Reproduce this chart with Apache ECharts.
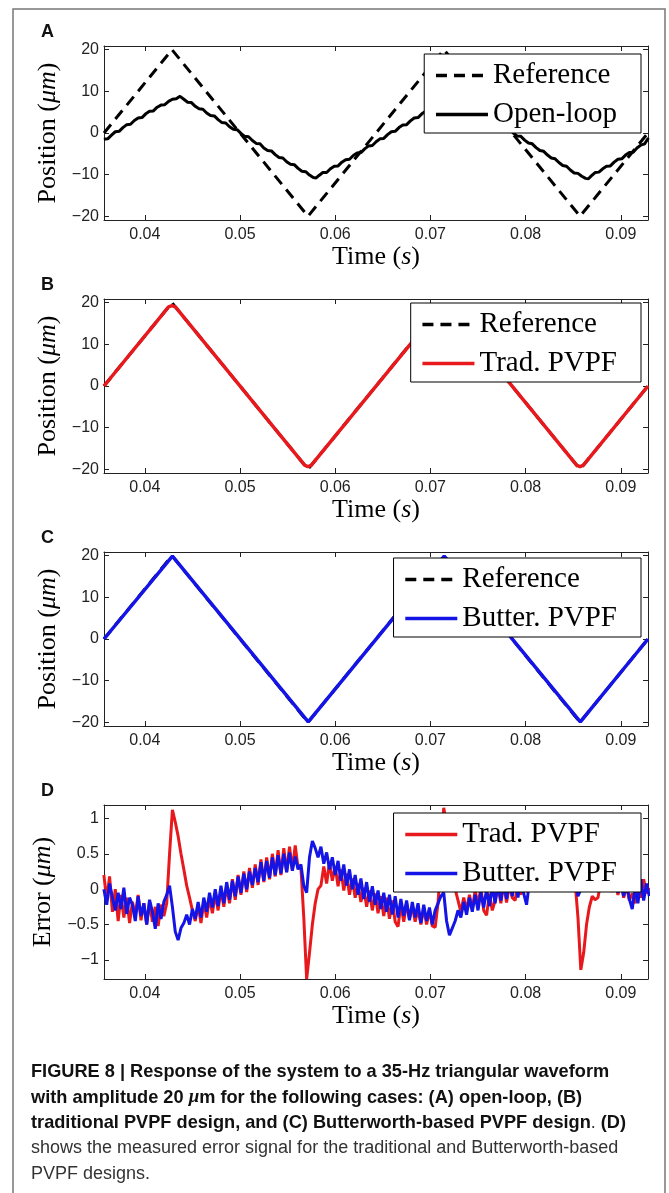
<!DOCTYPE html>
<html><head><meta charset="utf-8">
<script src="https://cdn.jsdelivr.net/npm/echarts@6/dist/echarts.min.js"></script>
<style>html,body{margin:0;padding:0;background:#fff}#c{width:669px;height:1193px}</style>
</head><body><div id="c"></div>
<script>
// ---------------- data ----------------
const xTicks = [0.04, 0.05, 0.06, 0.07, 0.08, 0.09];
const posTicks = [-20, -10, 0, 10, 20];
const errTicks = [-1, -0.5, 0, 0.5, 1];

// reference triangle (vertices)
const refT = [0.035714, 0.042857, 0.057143, 0.071429, 0.085714, 0.092857];
const refV = [0, 20, -20, 20, -20, 0];

// (A) open-loop response
const openT = [0.0357,0.0361,0.0365,0.0369,0.0373,0.0377,0.0381,0.0385,0.0389,0.0393,0.0397,0.0401,0.0405,0.0409,0.0413,0.0417,0.0421,0.0425,0.0429,0.0433,0.0437,
0.0441,0.0445,0.0449,0.0453,0.0457,0.0461,0.0465,0.0469,0.0473,0.0477,0.0481,0.0485,0.0489,0.0493,0.0497,0.0501,0.0505,0.0509,0.0513,0.0517,0.0521,0.0525,0.0529,0.0533,0.0537,0.0541,0.0545,0.0549,0.0553,0.0557,0.0561,0.0565,0.0569,0.0573,0.0577,0.0580,
0.0583,0.0587,0.0591,0.0595,0.0599,0.0603,0.0607,0.0611,0.0615,0.0619,0.0623,0.0627,0.0631,0.0635,0.0639,0.0643,0.0647,0.0651,0.0655,0.0659,0.0663,0.0667,0.0671,0.0675,0.0679,0.0683,0.0687,0.0691,0.0695,0.0699,0.0703,0.0707,0.0711,0.0715,0.0719,0.0723,
0.0727,0.0731,0.0735,0.0739,0.0743,0.0747,0.0751,0.0755,0.0759,0.0763,0.0767,0.0771,0.0775,0.0779,0.0783,0.0787,0.0791,0.0795,0.0799,0.0803,0.0807,0.0811,0.0815,0.0819,0.0823,0.0827,0.0831,0.0835,0.0839,0.0843,0.0847,0.0851,0.0855,0.0859,0.0863,0.0866,
0.0869,0.0873,0.0877,0.0881,0.0885,0.0889,0.0893,0.0897,0.0901,0.0905,0.0909,0.0913,0.0917,0.0921,0.0925,0.0929];
const openV = [-1.5,-1.4,-0.5,0.3,0.4,1.3,2.0,2.1,3.0,3.6,3.7,4.6,5.2,5.3,6.2,6.7,6.8,7.6,8.1,8.2,8.8,
8.1,7.4,7.3,6.4,5.8,5.7,4.8,4.2,4.1,3.2,2.5,2.4,1.5,0.9,0.8,-0.1,-0.8,-0.9,-1.8,-2.5,-2.6,-3.6,-4.2,-4.3,-5.2,-5.9,-6.0,-6.9,-7.5,-7.6,-8.5,-9.2,-9.3,-10.1,-10.7,-10.8,
-10.2,-9.5,-9.5,-8.6,-8.0,-7.9,-7.0,-6.4,-6.3,-5.4,-4.8,-4.7,-3.8,-3.1,-3.0,-2.1,-1.4,-1.3,-0.4,0.3,0.4,1.3,1.9,2.0,2.9,3.6,3.7,4.6,5.2,5.3,6.2,6.8,6.9,7.8,8.4,8.7,
8.1,7.5,7.4,6.5,5.9,5.8,4.9,4.3,4.2,3.3,2.6,2.5,1.6,1.0,0.9,0.0,-0.7,-0.8,-1.7,-2.4,-2.6,-3.5,-4.2,-4.4,-5.3,-6.0,-6.2,-7.1,-7.8,-8.0,-8.9,-9.6,-9.7,-10.4,-10.9,-11.0,
-10.3,-9.5,-9.4,-8.6,-8.0,-7.9,-7.0,-6.3,-6.2,-5.3,-4.7,-4.6,-3.6,-2.9,-2.6,-1.2];

// (B) traditional PVPF (rounded turning points)
const tradT = [0.035714,0.0425,0.04286,0.04321,0.05679,0.05714,0.0575,0.0711,0.07143,0.07179,0.08536,0.08571,0.08607,0.092857];
const tradV = [0,19.0,19.3,19.0,-19.0,-19.4,-19.0,19.0,19.3,19.0,-19.0,-19.4,-19.0,0];

// (C) Butterworth PVPF
const butT = [0.035714,0.04290,0.05717,0.07145,0.08575,0.092857];
const butV = [0,19.9,-19.9,19.9,-19.9,0];

// (D) measured error, sampled every errDt from errT0
const errT0 = 0.0357, errDt = 0.0003;
const errTrad = [0.2,-0.15,0.18,-0.32,0.0,-0.45,-0.08,-0.4,-0.12,-0.48,
-0.18,-0.38,-0.08,-0.44,-0.2,-0.5,-0.18,-0.46,-0.25,-0.52,
-0.22,-0.38,-0.2,0.5,1.12,0.95,0.75,0.5,0.28,0.05,
-0.12,-0.3,-0.45,-0.22,-0.48,-0.18,-0.4,-0.12,-0.34,-0.06,
-0.3,0.0,-0.25,0.06,-0.2,0.14,-0.15,0.2,-0.08,0.25,
-0.04,0.3,0.02,0.35,0.06,0.42,0.1,0.45,0.14,0.5,
0.18,0.55,0.2,0.58,0.24,0.6,0.28,0.62,0.3,0.3,
-0.4,-1.27,-0.9,-0.5,-0.2,0.0,0.05,0.32,0.08,0.38,
0.12,0.32,0.04,0.28,-0.02,0.22,-0.08,0.15,-0.12,0.08,
-0.18,0.02,-0.25,-0.02,-0.3,-0.06,-0.34,-0.1,-0.38,-0.12,
-0.42,-0.16,-0.46,-0.53,-0.22,-0.46,-0.2,-0.42,-0.24,-0.46,
-0.28,-0.5,-0.26,-0.5,-0.3,-0.52,-0.54,-0.2,0.4,1.15,
0.9,0.6,0.3,0.0,-0.16,-0.32,-0.12,-0.3,-0.08,-0.28,
-0.02,-0.22,0.02,-0.3,-0.37,-0.06,-0.3,-0.16,0.04,-0.2,
0.08,-0.19,0.06,-0.12,-0.16,0.1,-0.08,0.14,-0.04,0.2,
0.0,0.24,0.04,0.28,0.08,0.32,0.1,0.36,0.14,0.38,
0.16,0.4,0.2,0.42,0.24,0.1,-0.4,-1.14,-0.9,-0.5,
-0.25,-0.1,-0.15,-0.12,0.1,0.2,0.02,0.16,-0.04,0.12,
-0.08,0.1,-0.12,0.04,-0.16,-0.06,-0.2,0.06,-0.12,0.14,
-0.06,0.02];
const errButter = [0.0,-0.22,0.08,-0.12,-0.3,-0.05,-0.28,0.02,-0.35,-0.12,
-0.22,-0.45,-0.1,-0.38,-0.2,-0.5,-0.15,-0.32,-0.56,-0.2,
-0.42,-0.18,-0.08,0.05,-0.25,-0.6,-0.72,-0.55,-0.48,-0.36,
-0.5,-0.28,-0.42,-0.18,-0.4,-0.12,-0.32,-0.05,-0.26,0.0,
-0.24,0.05,-0.2,0.1,-0.15,0.12,-0.1,0.18,-0.05,0.22,
0.0,0.25,0.06,0.3,0.1,0.38,0.12,0.4,0.16,0.45,
0.2,0.48,0.22,0.5,0.24,0.52,0.26,0.46,0.28,0.35,
0.05,-0.05,0.45,0.68,0.58,0.45,0.6,0.36,0.52,0.28,
0.45,0.2,0.4,0.12,0.35,0.05,0.28,0.0,0.2,-0.08,
0.15,-0.14,0.1,-0.18,0.04,-0.22,-0.02,-0.28,-0.05,-0.32,
-0.08,-0.36,-0.1,-0.4,-0.14,-0.38,-0.16,-0.44,-0.18,-0.4,
-0.2,-0.48,-0.22,-0.45,-0.26,-0.5,-0.3,-0.2,-0.1,-0.05,
-0.45,-0.65,-0.55,-0.45,-0.3,-0.4,-0.18,-0.36,-0.12,-0.32,
-0.08,-0.3,-0.04,-0.26,0.0,-0.24,0.04,-0.2,0.08,-0.16,
0.1,-0.14,0.14,-0.1,0.16,-0.12,0.18,-0.06,-0.22,0.1,
0.22,-0.02,0.26,0.02,0.3,0.05,0.32,0.08,0.35,0.1,
0.38,0.12,0.38,0.14,0.35,0.2,-0.1,0.0,0.55,0.6,
0.42,0.55,0.28,0.45,0.15,0.35,0.08,0.28,0.0,0.2,
-0.05,0.14,-0.1,0.1,-0.14,-0.28,0.02,-0.2,0.14,-0.16,
0.08,-0.1];

const panelLetters = ['A', 'B', 'C', 'D'];
const captionLines = [
  '{b|FIGURE 8 | Response of the system to a 35-Hz triangular waveform}',
  '{b|with amplitude 20 }{bi|\u03bc}{b|m for the following cases: (A) open-loop, (B)}',
  '{b|traditional PVPF design, and (C) Butterworth-based PVPF design}{r|. }{b|(D)}',
  '{r|shows the measured error signal for the traditional and Butterworth-based}',
  '{r|PVPF designs.}'
];

// ---------------- layout / style ----------------
const X_MIN = 0.035714, X_MAX = 0.092857;
const tops = [46, 299, 552, 805];
const legendOffsets = [8, 4, 6, 8];
const PH = 174, PL = 104, PW = 544;
const RED = '#e8191c', BLUE = '#1414e6', AX = '#222';
const SERIF = '"Liberation Serif", "Times New Roman", serif';
const SANS = '"Liberation Sans", Arial, sans-serif';

const pairs = (T, V) => T.map((t, i) => [t, V[i]]);
const errPairs = V => V.map((v, i) => [errT0 + i * errDt, v]);
const minus = v => (v < 0 ? '\u2212' : '') + Math.abs(v);

const grid = tops.map(t => ({ left: PL, width: PW, top: t, height: PH }));

const xAxis = [], yAxis = [];
const yCfg = [
  { min: -20.9, max: 20.9, ticks: posTicks, name: 'Position ({i|\u03bcm})' },
  { min: -20.9, max: 20.9, ticks: posTicks, name: 'Position ({i|\u03bcm})' },
  { min: -20.9, max: 20.9, ticks: posTicks, name: 'Position ({i|\u03bcm})' },
  { min: -1.27, max: 1.19, ticks: errTicks, name: 'Error ({i|\u03bcm})' }
];
const titleStyle = {
  fontFamily: SERIF, fontSize: 26, color: '#000',
  rich: { i: { fontFamily: SERIF, fontSize: 26, fontStyle: 'italic', color: '#000' } }
};
tops.forEach((t, g) => {
  const common = { type: 'value', gridIndex: g, min: X_MIN, max: X_MAX, splitLine: { show: false },
    axisLine: { show: true, onZero: false, lineStyle: { color: AX, width: 1 } } };
  xAxis.push(Object.assign({}, common, {
    position: 'bottom',
    axisTick: { show: true, inside: true, length: 5, customValues: xTicks, lineStyle: { color: AX } },
    axisLabel: { show: true, customValues: xTicks, margin: 7, formatter: v => v.toFixed(2),
      fontFamily: SANS, fontSize: 16, color: '#222' },
    name: 'Time ({i|s})', nameLocation: 'middle', nameGap: 24, nameTextStyle: titleStyle
  }));
  xAxis.push(Object.assign({}, common, {
    position: 'top',
    axisTick: { show: true, inside: true, length: 5, customValues: xTicks, lineStyle: { color: AX } },
    axisLabel: { show: false }
  }));
  const yc = yCfg[g];
  const ycommon = { type: 'value', gridIndex: g, min: yc.min, max: yc.max, splitLine: { show: false },
    axisLine: { show: true, onZero: false, lineStyle: { color: AX, width: 1 } } };
  yAxis.push(Object.assign({}, ycommon, {
    position: 'left',
    axisTick: { show: true, inside: true, length: 5, customValues: yc.ticks, lineStyle: { color: AX } },
    axisLabel: { show: true, customValues: yc.ticks, margin: 5, formatter: minus,
      fontFamily: SANS, fontSize: 16, color: '#222' },
    name: yc.name, nameLocation: 'middle', nameRotate: 90, nameGap: 40, nameTextStyle: titleStyle
  }));
  yAxis.push(Object.assign({}, ycommon, {
    position: 'right',
    axisTick: { show: true, inside: true, length: 5, customValues: yc.ticks, lineStyle: { color: AX } },
    axisLabel: { show: false }
  }));
});

const line = (name, g, data, color, dashed, w) => ({
  type: 'line', name, xAxisIndex: 2 * g, yAxisIndex: 2 * g, data,
  symbol: 'none', showSymbol: false, animation: false, silent: true,
  lineStyle: { color, width: w || 3, type: dashed ? [11, 7] : 'solid' },
  itemStyle: { color }
});

const series = [
  line('Reference', 0, pairs(refT, refV), '#000', true),
  line('Open-loop', 0, pairs(openT, openV), '#000', false),
  line('Reference', 1, pairs(refT, refV), '#000', true),
  line('Trad. PVPF', 1, pairs(tradT, tradV), RED, false, 3.5),
  line('Reference', 2, pairs(refT, refV), '#000', true),
  line('Butter. PVPF', 2, pairs(butT, butV), BLUE, false, 3.5),
  line('Trad. PVPF', 3, errPairs(errTrad), RED, false, 3),
  line('Butter. PVPF', 3, errPairs(errButter), BLUE, false, 3)
];

const legendData = [['Reference', 'Open-loop'], ['Reference', 'Trad. PVPF'], ['Reference', 'Butter. PVPF'], ['Trad. PVPF', 'Butter. PVPF']];
const legend = legendData.map((d, g) => ({
  data: d, orient: 'vertical', right: 28, top: tops[g] + legendOffsets[g],
  backgroundColor: '#fff', borderColor: '#000', borderWidth: 1, borderRadius: 0,
  padding: [7, 24, 4, 10], itemGap: 10, itemWidth: 52, itemHeight: 14,
  selectedMode: false, z: 10,
  itemStyle: { opacity: 0, borderWidth: 0 },
  lineStyle: { width: 3.5 },
  textStyle: { fontFamily: SERIF, fontSize: 29, color: '#000' }
}));

const graphic = [
  { type: 'rect', shape: { x: 13, y: 9, width: 652, height: 1210 }, style: { fill: 'none', stroke: '#777', lineWidth: 1.5 }, silent: true }
];
panelLetters.forEach((L, g) => graphic.push({
  type: 'text', x: 41, y: tops[g] - 14, silent: true,
  style: { text: L, fontFamily: SANS, fontWeight: 'bold', fontSize: 18, fill: '#111', verticalAlign: 'middle' }
}));
captionLines.forEach((s, k) => graphic.push({
  type: 'text', x: 31, y: 1072 + k * 25.5, silent: true,
  style: { text: s, verticalAlign: 'middle', fontFamily: SANS, fontSize: 18,
    rich: {
      b: { fontFamily: SANS, fontSize: 18.2, fontWeight: 'bold', fill: '#111' },
      bi: { fontFamily: SERIF, fontSize: 19, fontWeight: 'bold', fontStyle: 'italic', fill: '#111' },
      r: { fontFamily: SANS, fontSize: 18, fill: '#333' }
    } }
}));

const chart = echarts.init(document.getElementById('c'), null, { renderer: 'canvas' });
chart.setOption({ animation: false, backgroundColor: '#fff', grid, xAxis, yAxis, series, legend, graphic });
</script></body></html>
